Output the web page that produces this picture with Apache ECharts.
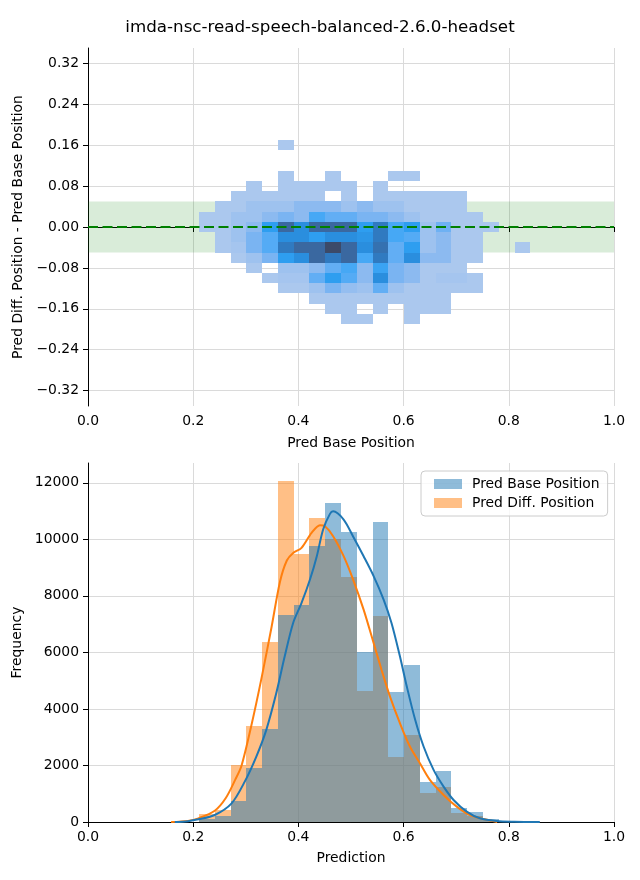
<!DOCTYPE html>
<html><head><meta charset="utf-8">
<script src="https://cdn.jsdelivr.net/npm/echarts@6/dist/echarts.min.js"></script>
<style>html,body{margin:0;padding:0;background:#fff}#c{width:640px;height:880px}</style>
</head><body><div id="c"></div>
<script>
// ---------------- data ----------------
const titleText = 'imda-nsc-read-speech-balanced-2.6.0-headset';

// shared bin left edges along "prediction" / "pred base position" axis
const binLeft = [0.211, 0.241, 0.271, 0.301, 0.331, 0.361, 0.391, 0.421, 0.451, 0.481, 0.511,
                 0.541, 0.571, 0.601, 0.631, 0.661, 0.691, 0.721, 0.751, 0.781, 0.811];
const binWidth = 0.03;

// 2D histogram: y-bin bottoms (top row first) and relative counts per cell
const heatYBottom = [0.15, 0.13, 0.11, 0.09, 0.07, 0.05, 0.03, 0.01, -0.01, -0.03,
                     -0.05, -0.07, -0.09, -0.11, -0.13, -0.15, -0.17, -0.19];
const heatYHeight = 0.02;
const heatRows = [
  [0,0,0,0,0,1,0,0,0,0,0,0,0,0,0,0,0,0,0,0,0],
  [0,0,0,0,0,0,0,0,0,0,0,0,0,0,0,0,0,0,0,0,0],
  [0,0,0,0,0,0,0,0,0,0,0,0,0,0,0,0,0,0,0,0,0],
  [0,0,0,0,0,1,0,0,1,0,0,0,1,1,0,0,0,0,0,0,0],
  [0,0,0,1,0,1,1,1,1,1,0,1,0,0,0,0,0,0,0,0,0],
  [0,0,1,1,1,1,1,1,0,1,0,1,1,1,1,1,1,0,0,0,0],
  [0,1,1,2,2,2,3,3,3,2,3,2,2,1,1,1,1,0,0,0,0],
  [1,1,2,2,3,4,3,6,5,5,4,4,3,2,1,1,1,1,0,0,0],
  [1,1,2,3,7,10,8,10,10,10,7,9,6,7,2,4.5,1,1,1,0,0],
  [0,1,2,4,5.5,8,8,7,8,8,7.5,9,6,5.5,2,3,1,1,0,0,0],
  [0,1,1.5,4,5.5,9,10,10,11,10,8,9.5,5,7,2,3,1,1,0,0,1],
  [0,0,1,2,4,7,8,10,9,10,6,9,5,8,3,3,1,1,0,0,0],
  [0,0,0,1,0,2,2,3,5,6,3,6.5,4,3,1,1,1,0,0,0,0],
  [0,0,0,0,1,1.5,1.5,5,7,5.5,3,8,4,3,1,1.5,1.5,1,0,0,0],
  [0,0,0,0,0,1,1,2,4,2.5,2,5,2,1,1,1,1,1,0,0,0],
  [0,0,0,0,0,0,0,1,1,1,1,1,1,1,1,1,0,0,0,0,0],
  [0,0,0,0,0,0,0,0,1,1,0,1,0,1,1,1,0,0,0,0,0],
  [0,0,0,0,0,0,0,0,0,1,1,0,0,1,0,0,0,0,0,0,0]
];

// 1D histograms (frequency per bin)
const baseHist = [90, 220, 745, 1925, 3305, 7335, 7690, 9780, 11295, 10250, 6015,
                  10600, 4615, 5560, 1420, 1805, 508, 366, 90, 20, 8];
const diffHist = [280, 425, 2010, 3400, 6375, 12080, 9495, 10760, 10020, 8655, 4645,
                  7275, 2290, 3080, 1016, 1250, 307, 213, 60, 10, 0];

// KDE curves (scaled to counts)
const baseKdeX = [0.165, 0.19, 0.210, 0.241, 0.273, 0.298, 0.320, 0.339, 0.358, 0.374, 0.390,
                  0.406, 0.422, 0.435, 0.447, 0.460, 0.466, 0.486, 0.504, 0.524, 0.543, 0.562,
                  0.577, 0.593, 0.606, 0.622, 0.638, 0.657, 0.676, 0.695, 0.720, 0.745, 0.777,
                  0.81, 0.859];
const baseKdeY = [0, 30, 95, 248, 661, 1429, 2315, 3260, 4560, 5860, 7041,
                  7750, 8577, 9404, 10349, 10900, 10990, 10700, 10100, 9400, 8700, 7870,
                  7040, 5860, 4800, 3615, 2670, 1843, 1252, 780, 366, 130, 35,
                  10, 0];
const diffKdeX = [0.158, 0.19, 0.210, 0.241, 0.262, 0.280, 0.292, 0.311, 0.330, 0.349, 0.365,
                  0.378, 0.390, 0.406, 0.425, 0.441, 0.450, 0.466, 0.486, 0.504, 0.524, 0.543,
                  0.558, 0.574, 0.593, 0.612, 0.631, 0.650, 0.676, 0.701, 0.726, 0.752, 0.778];
const diffKdeY = [0, 40, 130, 400, 850, 1500, 2000, 3450, 5100, 6900, 8500,
                  9250, 9520, 9700, 10230, 10500, 10470, 10110, 9404, 8577, 7513, 6332,
                  5387, 4442, 3497, 2670, 2079, 1488, 957, 543, 248, 106, 0];

// tick labels
const topYTicks = [-0.32, -0.24, -0.16, -0.08, 0, 0.08, 0.16, 0.24, 0.32];
const bottomYTicks = [0, 2000, 4000, 6000, 8000, 10000, 12000];
const bandHalf = 0.05;

// ---------------- build ----------------
const FONT = 'DejaVu Sans';
const heatData = [];
heatRows.forEach((row, r) => row.forEach((v, c) => {
  if (v > 0) heatData.push([binLeft[c], binLeft[c] + binWidth, heatYBottom[r], heatYBottom[r] + heatYHeight, v]);
}));
const baseData = baseHist.map((v, k) => [binLeft[k], binLeft[k] + binWidth, 0, v]);
const diffData = diffHist.map((v, k) => [binLeft[k], binLeft[k] + binWidth, 0, v]);

function rectRender(params, api) {
  const p0 = api.coord([api.value(0), api.value(3)]);
  const p1 = api.coord([api.value(1), api.value(2)]);
  const x0 = Math.round(p0[0]), x1 = Math.round(p1[0]);
  const y0 = Math.round(p0[1]), y1 = Math.round(p1[1]);
  return { type: 'rect', shape: { x: x0, y: y0, width: x1 - x0, height: y1 - y0 },
           style: { fill: api.visual('color') } };
}

const axisLineStyle = { show: true, lineStyle: { color: '#000', width: 1 } };
const tickStyle = { show: true, length: 5, lineStyle: { color: '#000', width: 1 } };
const splitStyle = { show: true, lineStyle: { color: '#dadada', width: 1 } };
const labelBase = { color: '#000', fontSize: 13.9, fontFamily: FONT };
const nameStyle = { color: '#000', fontSize: 13.9, fontFamily: FONT };
const minus = s => s.replace('-', '\u2212');

const option = {
  animation: false,
  backgroundColor: '#fff',
  title: { text: titleText, left: 'center', top: 14,
           textStyle: { fontSize: 16.7, fontWeight: 'normal', color: '#000', fontFamily: FONT } },
  legend: {
    data: ['Pred Base Position', 'Pred Diff. Position'],
    orient: 'vertical', left: 421, top: 471,
    icon: 'rect', itemWidth: 28, itemHeight: 10, itemGap: 5,
    padding: [6, 8, 6, 13],
    borderColor: '#cccccc', borderWidth: 1, borderRadius: 4,
    backgroundColor: 'rgba(255,255,255,0.8)',
    textStyle: { color: '#000', fontSize: 13.9, fontFamily: FONT, padding: [0, 0, 0, 5] }
  },
  visualMap: {
    show: false, type: 'continuous', seriesIndex: 1, dimension: 4, min: 1, max: 11,
    inRange: { color: ['#abc8ee', '#9ec2ef', '#8cbaf0', '#7ab4f2', '#62aef4', '#46a8f5',
                       '#2e9ef0', '#2a8ede', '#307ac0', '#3a68a0', '#3c4a68'] }
  },
  grid: [
    { left: 88, top: 48, width: 526, height: 358 },
    { left: 88, top: 463, width: 526, height: 359 }
  ],
  xAxis: [
    { gridIndex: 0, type: 'value', min: 0, max: 1, interval: 0.2,
      name: 'Pred Base Position', nameLocation: 'middle', nameGap: 30, nameTextStyle: nameStyle,
      axisLine: axisLineStyle, axisTick: tickStyle, splitLine: splitStyle,
      axisLabel: Object.assign({ margin: 8, formatter: v => v.toFixed(1) }, labelBase) },
    { gridIndex: 1, type: 'value', min: 0, max: 1, interval: 0.2,
      name: 'Prediction', nameLocation: 'middle', nameGap: 29, nameTextStyle: nameStyle,
      axisLine: axisLineStyle, axisTick: tickStyle, splitLine: splitStyle,
      axisLabel: Object.assign({ margin: 8, formatter: v => v.toFixed(1) }, labelBase) }
  ],
  yAxis: [
    { gridIndex: 0, type: 'value', min: -0.35, max: 0.35,
      name: 'Pred Diff. Position - Pred Base Position', nameLocation: 'middle', nameGap: 54,
      nameTextStyle: nameStyle,
      axisLine: axisLineStyle,
      axisTick: Object.assign({ customValues: topYTicks }, tickStyle),
      splitLine: splitStyle,
      axisLabel: Object.assign({ customValues: topYTicks, margin: 9,
        formatter: v => minus(Math.abs(v) < 1e-9 ? '0.00' : v.toFixed(2)) }, labelBase) },
    { gridIndex: 1, type: 'value', min: 0, max: 12700,
      name: 'Frequency', nameLocation: 'middle', nameGap: 54, nameTextStyle: nameStyle,
      axisLine: axisLineStyle,
      axisTick: Object.assign({ customValues: bottomYTicks }, tickStyle),
      splitLine: splitStyle,
      axisLabel: Object.assign({ customValues: bottomYTicks, margin: 9,
        formatter: v => String(Math.round(v)) }, labelBase) }
  ],
  series: [
    { name: 'band', type: 'line', xAxisIndex: 0, yAxisIndex: 0, data: [], z: 1, silent: true,
      markArea: { silent: true, itemStyle: { color: 'rgba(0,128,0,0.15)' },
                  data: [[{ yAxis: -bandHalf }, { yAxis: bandHalf }]] } },
    { name: 'heat', type: 'custom', xAxisIndex: 0, yAxisIndex: 0, z: 2,
      renderItem: rectRender, encode: { x: [0, 1], y: [2, 3] }, data: heatData },
    { name: 'zero', type: 'line', xAxisIndex: 0, yAxisIndex: 0, data: [], z: 5, silent: true,
      markLine: { silent: true, symbol: ['none', 'none'], label: { show: false },
                  lineStyle: { color: '#008000', width: 2.2, type: [10, 4.5] },
                  data: [{ yAxis: 0 }] } },
    { name: 'Pred Diff. Position', type: 'custom', xAxisIndex: 1, yAxisIndex: 1, z: 2,
      itemStyle: { color: 'rgba(255,127,14,0.5)' },
      renderItem: rectRender, encode: { x: [0, 1], y: [2, 3] }, data: diffData },
    { name: 'Pred Base Position', type: 'custom', xAxisIndex: 1, yAxisIndex: 1, z: 3,
      itemStyle: { color: 'rgba(31,119,180,0.5)' },
      renderItem: rectRender, encode: { x: [0, 1], y: [2, 3] }, data: baseData },
    { name: 'diff-kde', type: 'line', xAxisIndex: 1, yAxisIndex: 1, z: 4, smooth: 0.3,
      showSymbol: false, lineStyle: { color: '#ff7f0e', width: 2 }, itemStyle: { color: '#ff7f0e' },
      data: diffKdeX.map((x, i) => [x, diffKdeY[i]]) },
    { name: 'base-kde', type: 'line', xAxisIndex: 1, yAxisIndex: 1, z: 5, smooth: 0.3,
      showSymbol: false, lineStyle: { color: '#1f77b4', width: 2 }, itemStyle: { color: '#1f77b4' },
      data: baseKdeX.map((x, i) => [x, baseKdeY[i]]) }
  ]
};
const chart = echarts.init(document.getElementById('c'), null, { renderer: 'canvas' });
chart.setOption(option);
</script></body></html>
